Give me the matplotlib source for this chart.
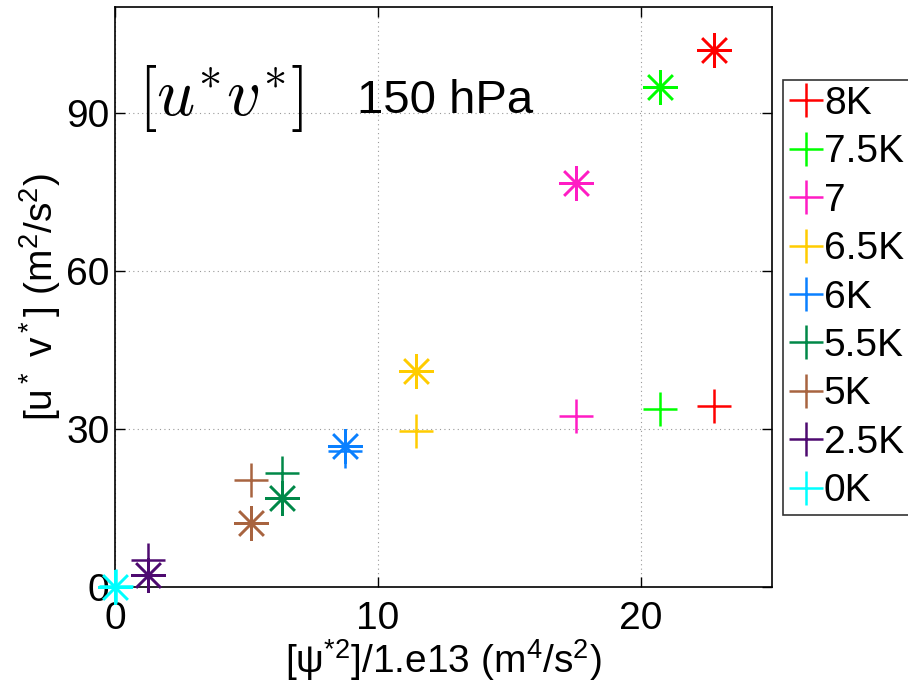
import matplotlib
matplotlib.use("Agg")
import matplotlib.pyplot as plt
from matplotlib.lines import Line2D

plt.rcParams['font.family'] = ['Liberation Sans', 'DejaVu Sans']
plt.rcParams['mathtext.fontset'] = 'custom'
plt.rcParams['mathtext.rm'] = 'Liberation Sans'
plt.rcParams['mathtext.it'] = 'Liberation Sans:italic'
plt.rcParams['mathtext.bf'] = 'Liberation Sans:bold'

labels = ['8K', '7.5K', '7', '6.5K', '6K', '5.5K', '5K', '2.5K', '0K']
colors = ['#FF0000', '#00FF00', '#FF1CC4', '#FFCC00', '#0A80FF',
          '#008848', '#A86440', '#4E0A70', '#00FFFF']
# plus markers
psi_plus = [22.78, 20.72, 17.54, 11.44, 8.75, 6.35, 5.17, 1.27, 0.05]
uv_plus = [34.4, 33.8, 32.5, 29.6, 25.9, 21.7, 20.3, 5.2, 0.3]
# asterisk markers
psi_star = [22.78, 20.72, 17.54, 11.44, 8.75, 6.35, 5.17, 1.27, 0.0]
uv_star = [101.9, 94.8, 76.7, 41.0, 26.8, 16.9, 12.1, 2.3, 0.0]

W, H = 908, 684
fig = plt.figure(figsize=(W / 100, H / 100), dpi=100)
ax = fig.add_axes([115 / W, 1 - 587.3 / H, 657 / W, 580.3 / H])

ms = 25
mew = 1.8
for i in range(len(labels)):
    ax.plot(psi_star[i], uv_star[i], linestyle='none', marker=(8, 2, 0),
            markersize=ms, markeredgewidth=mew, color=colors[i],
            clip_on=False, zorder=3)
    ax.plot(psi_plus[i], uv_plus[i], linestyle='none', marker='+',
            markersize=ms, markeredgewidth=mew, color=colors[i],
            clip_on=False, zorder=3)

ax.set_xlim(0, 25)
ax.set_ylim(0, 110)
ax.set_xticks([0, 10, 20])
ax.set_yticks([0, 30, 60, 90])
ax.grid(True, linestyle=(0, (1, 3)), color='#999999', linewidth=0.8)
ax.set_axisbelow(True)
ax.tick_params(direction='in', length=7, width=1, top=True, right=True,
               labelsize=28, pad=4)
ax.tick_params(axis='x', pad=10)
for s in ax.spines.values():
    s.set_linewidth(1.2)

ax.set_xlabel('[\u03c8$^{*2}$]/1.e13 (m$^4$/s$^2$)', fontsize=28, labelpad=0)
ax.set_ylabel('[u$^*$ v$^*$] (m$^2$/s$^2$)', fontsize=28, labelpad=2)
ax.xaxis.set_label_coords(0.5, -0.086, transform=ax.transAxes)
ax.xaxis.label.set_va('top')

fig.text(138 / W, 1 - 98 / H, r'$[u^{{*}}v^{{*}}]$', fontsize=48, ha='left',
         va='center', math_fontfamily='cm')
fig.text(357 / W, 1 - 113 / H, '150 hPa', fontsize=34, ha='left',
         va='baseline')

handles = [Line2D([], [], linestyle='none', marker='+', markersize=ms,
                  markeredgewidth=mew, color=c) for c in colors]
leg = fig.legend(handles, labels, loc='upper left',
                 bbox_to_anchor=(783 / W, 1 - 80 / H), fontsize=28,
                 frameon=True, fancybox=False, edgecolor='black',
                 borderpad=0.15, handlelength=0.9, handletextpad=0.0,
                 labelspacing=0.32, borderaxespad=0)
leg.get_frame().set_linewidth(1.2)

fig.savefig('out.png', dpi=100)
